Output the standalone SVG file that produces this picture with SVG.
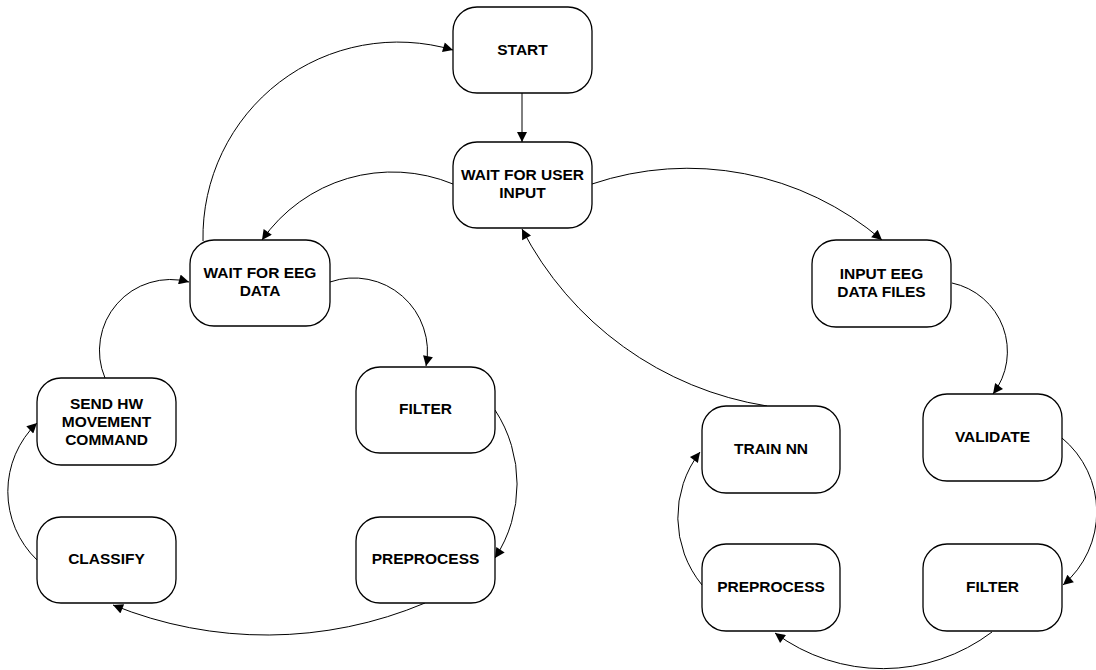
<svg xmlns="http://www.w3.org/2000/svg" width="1096" height="670" viewBox="0 0 1096 670">
<style>
.box{fill:#fff;stroke:#000;stroke-width:1.3}
.lbl{font-family:"Liberation Sans",Arial,sans-serif;font-weight:bold;font-size:15.5px;fill:#000;text-anchor:middle}
.con{fill:none;stroke:#000;stroke-width:1;marker-end:url(#arr)}
</style>
<defs>
<marker id="arr" viewBox="0 0 10 10" refX="10" refY="5" markerWidth="12" markerHeight="10" markerUnits="userSpaceOnUse" orient="auto">
<path d="M0,0 L10,5 L0,10 z" fill="#000"/>
</marker>
</defs>
<rect x="0" y="0" width="1096" height="670" fill="#fff"/>
<g id="connectors">
<path class="con" d="M522,93 L522,142"/>
<path class="con" d="M203,241 A195,195 0 0 1 453,50"/>
<path class="con" d="M453,184 A159,159 0 0 0 262,240"/>
<path class="con" d="M592,184 A299,299 0 0 1 882,240"/>
<path class="con" d="M767,406 A335,335 0 0 1 522,229"/>
<path class="con" d="M330,282 A73.5,73.5 0 0 1 426,366"/>
<path class="con" d="M495,410 A135,135 0 0 1 495,558"/>
<path class="con" d="M425,603 A408,408 0 0 1 113,605"/>
<path class="con" d="M37,560 A95,95 0 0 1 37,423"/>
<path class="con" d="M105,378 A71,71 0 0 1 189,282"/>
<path class="con" d="M952,283 A70,70 0 0 1 993,394"/>
<path class="con" d="M1062,438 A96,96 0 0 1 1063,585"/>
<path class="con" d="M992,632 A181,181 0 0 1 775,633"/>
<path class="con" d="M702,585 A107,107 0 0 1 700,452"/>
</g>
<g id="start"><rect class="box" x="453" y="7" width="139" height="86" rx="24"/><text class="lbl" x="522.5" y="54.5">START</text></g>
<g id="wait-user"><rect class="box" x="453" y="142" width="139" height="86" rx="24"/><text class="lbl" x="522.5" y="180">WAIT FOR USER</text><text class="lbl" x="522.5" y="197.7">INPUT</text></g>
<g id="wait-eeg"><rect class="box" x="190" y="240" width="140" height="86" rx="24"/><text class="lbl" x="260" y="278">WAIT FOR EEG</text><text class="lbl" x="260" y="295.5">DATA</text></g>
<g id="input-eeg"><rect class="box" x="812" y="240" width="139" height="87" rx="24"/><text class="lbl" x="881.5" y="278.5">INPUT EEG</text><text class="lbl" x="881.5" y="296.5">DATA FILES</text></g>
<g id="send-hw"><rect class="box" x="37" y="378" width="139" height="87" rx="24"/><text class="lbl" x="106.5" y="408.5">SEND HW</text><text class="lbl" x="106.5" y="426.5">MOVEMENT</text><text class="lbl" x="106.5" y="444.5">COMMAND</text></g>
<g id="filter-left"><rect class="box" x="356" y="367" width="139" height="86" rx="24"/><text class="lbl" x="425.5" y="414">FILTER</text></g>
<g id="validate"><rect class="box" x="923" y="394" width="139" height="87" rx="24"/><text class="lbl" x="992.5" y="441.5">VALIDATE</text></g>
<g id="train-nn"><rect class="box" x="702" y="406" width="138" height="87" rx="24"/><text class="lbl" x="771" y="454">TRAIN NN</text></g>
<g id="classify"><rect class="box" x="37" y="517" width="139" height="86" rx="24"/><text class="lbl" x="106.5" y="564">CLASSIFY</text></g>
<g id="preprocess-left"><rect class="box" x="356" y="517" width="139" height="86" rx="24"/><text class="lbl" x="425.5" y="564">PREPROCESS</text></g>
<g id="preprocess-right"><rect class="box" x="702" y="544" width="138" height="87" rx="24"/><text class="lbl" x="771" y="591.5">PREPROCESS</text></g>
<g id="filter-right"><rect class="box" x="923" y="544" width="139" height="87" rx="24"/><text class="lbl" x="992.5" y="591.5">FILTER</text></g>
</svg>
